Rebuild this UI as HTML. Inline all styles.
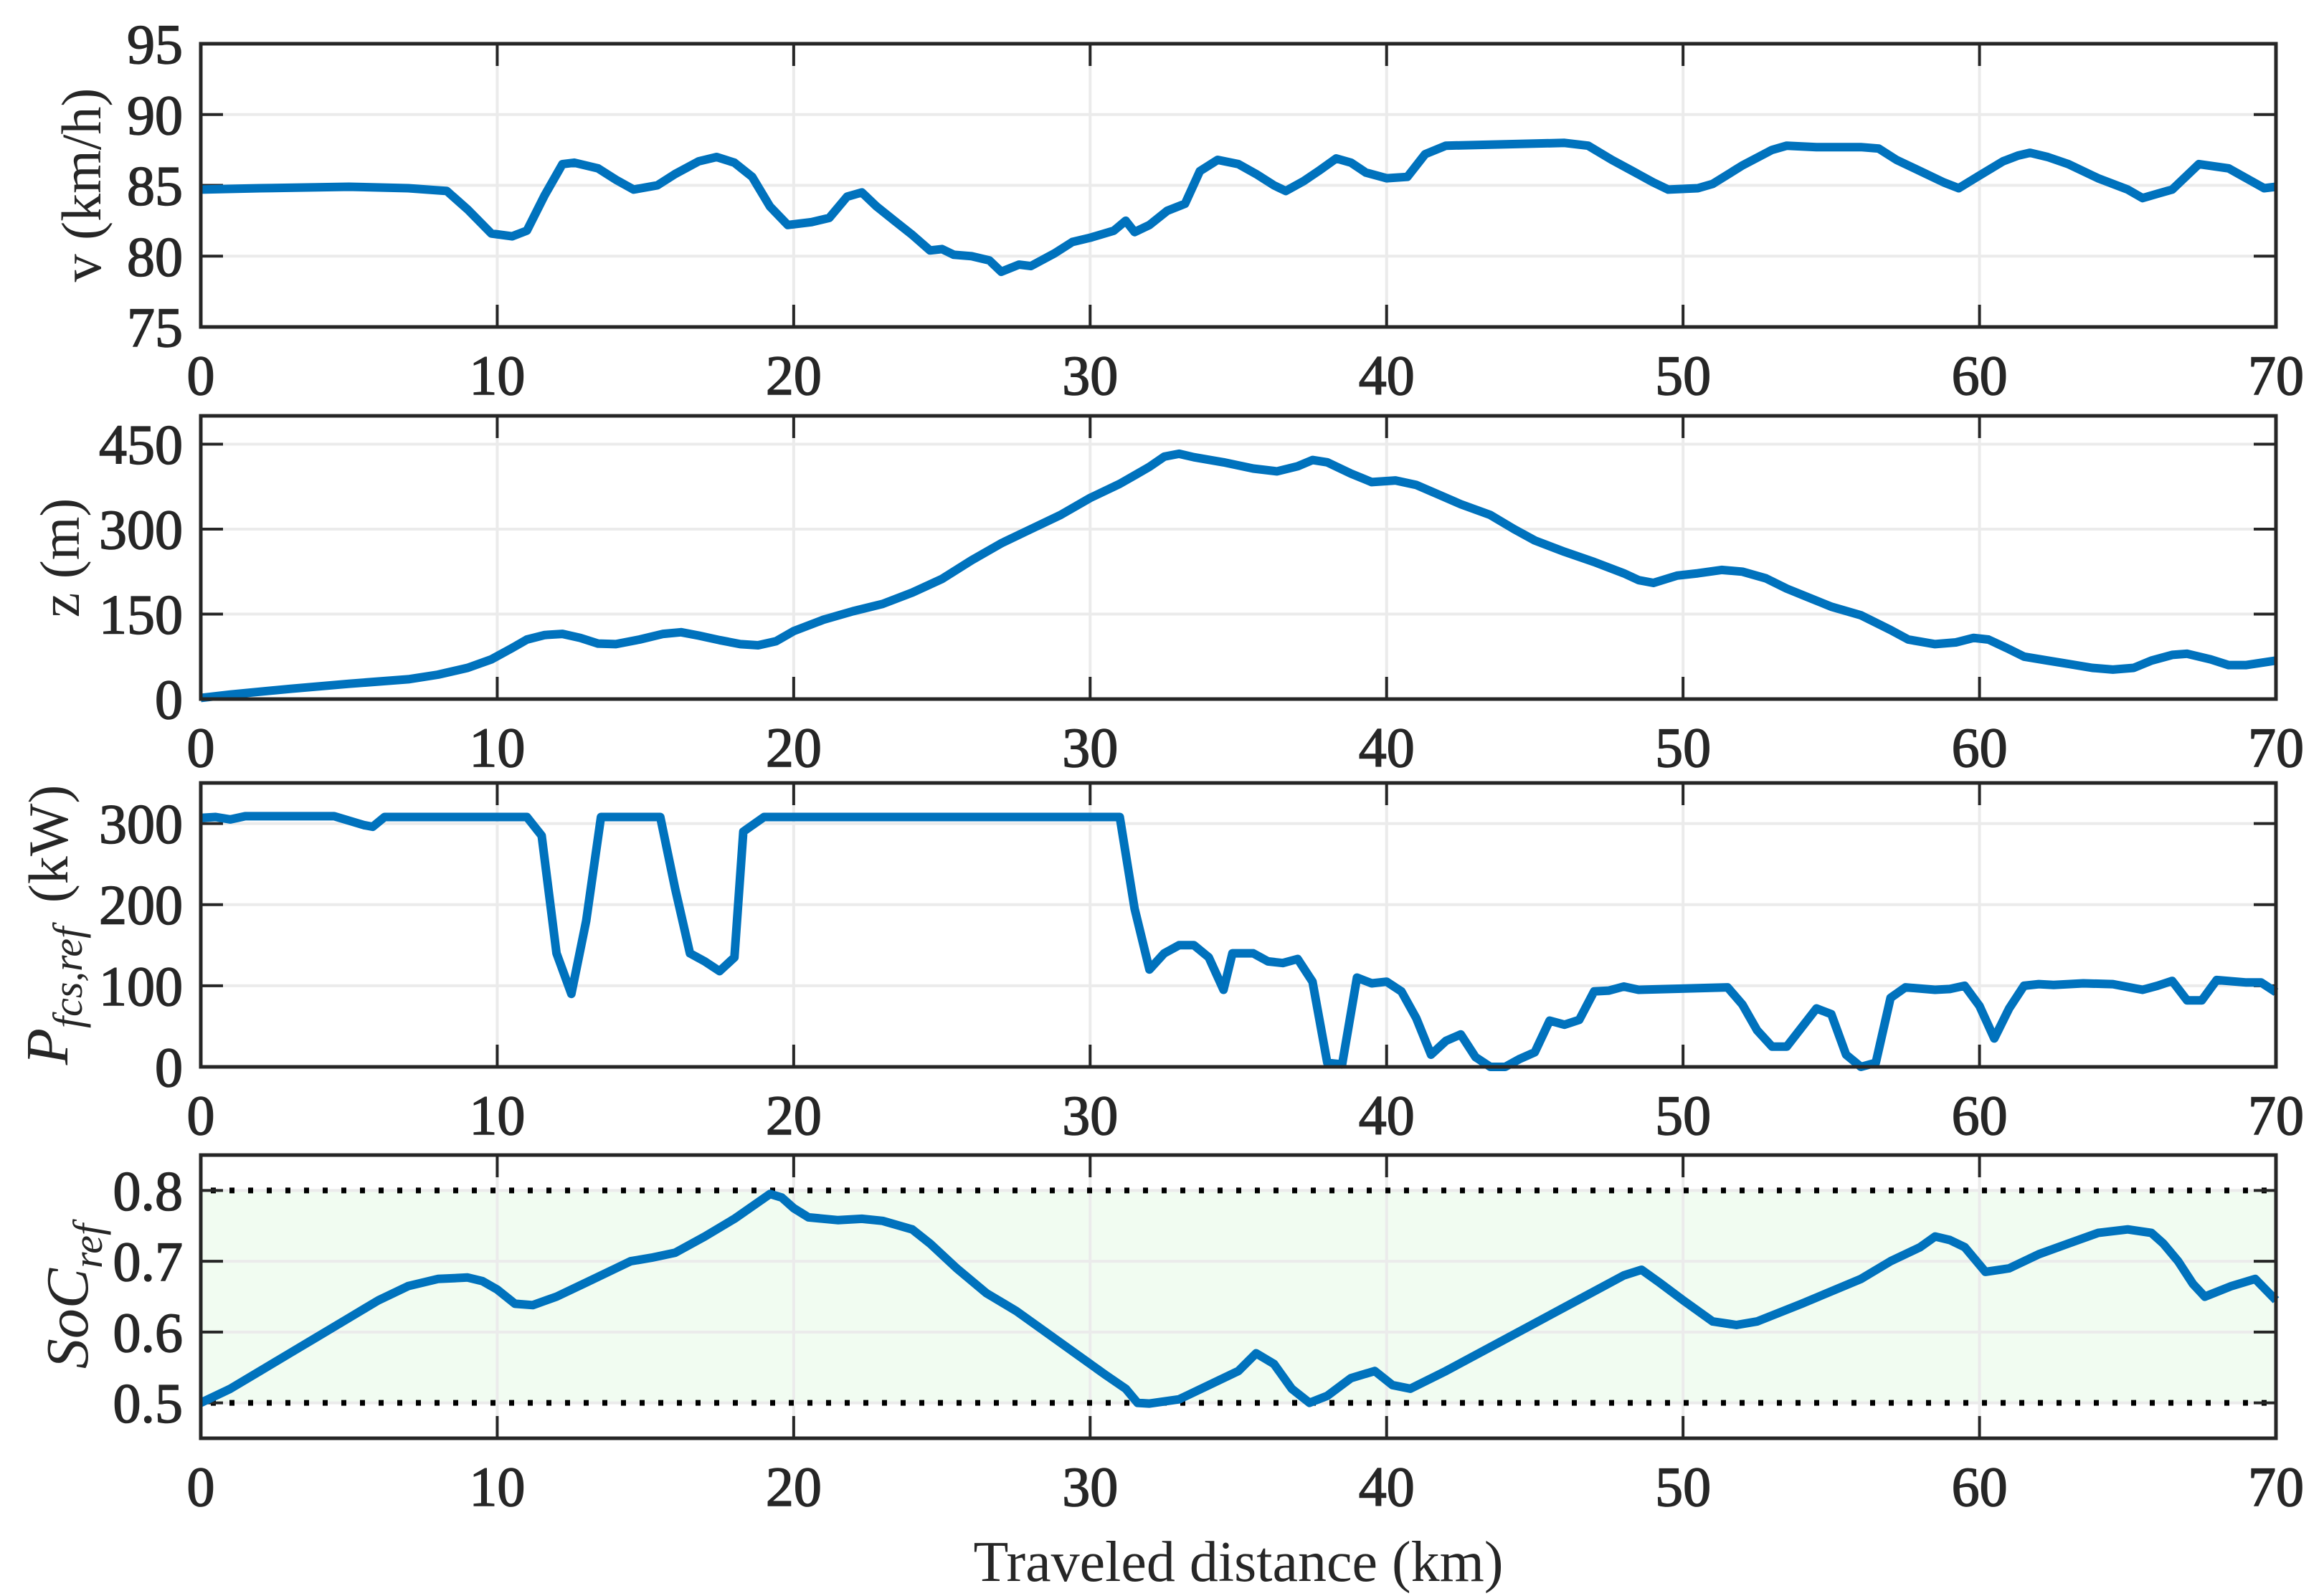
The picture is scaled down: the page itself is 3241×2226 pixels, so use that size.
<!DOCTYPE html>
<html><head><meta charset="utf-8"><style>
html,body{margin:0;padding:0;background:#fff;}
svg{display:block;font-family:"Liberation Serif",serif;}
</style></head><body>
<svg id="fig" xmlns="http://www.w3.org/2000/svg" width="3241" height="2226" viewBox="0 0 3241 2226"></svg>
<script>
const xTicks=[0,10,20,30,40,50,60,70];
const speedX=[0,2,5,7,8.3,9,9.8,10.5,11,11.6,12.2,12.6,13.4,14,14.6,15.4,16,16.8,17.4,18,18.6,19.2,19.8,20.6,21.2,21.8,22.3,22.8,23.4,24,24.6,25,25.4,26,26.6,27,27.6,28,28.8,29.4,30,30.8,31.2,31.5,32,32.6,33.2,33.7,34.3,35,35.6,36.2,36.6,37.2,37.7,38.3,38.8,39.3,40,40.7,41.3,42,44,46,46.8,47.6,48.3,49,49.5,50.5,51,52,53,53.5,54.5,56,56.6,57.2,58,58.8,59.3,60,60.8,61.3,61.7,62.3,63,64,65,65.5,66,66.5,67.4,68.4,69,69.6,70];
const speedV=[84.7,84.8,84.9,84.8,84.6,83.3,81.6,81.4,81.8,84.3,86.5,86.6,86.2,85.4,84.7,85,85.8,86.7,87,86.6,85.6,83.5,82.2,82.4,82.7,84.2,84.5,83.5,82.5,81.5,80.4,80.5,80.1,80,79.7,78.9,79.4,79.3,80.2,81,81.3,81.8,82.5,81.7,82.2,83.2,83.7,86,86.8,86.5,85.8,85,84.6,85.3,86,86.9,86.6,85.9,85.5,85.6,87.2,87.8,87.9,88,87.8,86.8,86,85.2,84.7,84.8,85.1,86.4,87.5,87.8,87.7,87.7,87.6,86.8,86,85.2,84.8,85.7,86.7,87.1,87.3,87,86.5,85.5,84.7,84.1,84.4,84.7,86.5,86.2,85.5,84.8,84.9];
const elevX=[0,1,3,5,7,8,9,9.8,10.5,11,11.6,12.2,12.8,13.4,14,14.8,15.6,16.2,16.8,17.5,18.2,18.8,19.4,20,21,22,23,24,25,26,27,28,29,30,31,31.5,32,32.5,33,33.5,34.5,35.5,36.3,37,37.5,38,38.8,39.5,40.3,41,41.8,42.5,43.5,44.3,45,46,47,48,48.5,49,49.8,50.5,51.3,52,52.8,53.5,54.3,55,56,57,57.6,58.5,59.2,59.8,60.3,61,61.5,62.3,63,63.8,64.5,65.2,65.8,66.5,67,67.8,68.4,69,70];
const elevV=[2,8,18,27,35,43,55,70,90,105,113,115,108,98,97,105,115,118,112,104,97,95,102,120,140,155,168,188,212,245,275,300,325,355,380,395,410,428,433,427,418,407,402,411,422,418,398,383,386,378,360,344,325,300,280,260,242,222,210,205,218,222,228,225,213,195,178,163,148,122,105,97,100,108,105,88,75,68,62,55,52,55,68,78,80,70,60,60,68];
const powX=[0,0.5,1,1.5,4.5,5.5,5.8,6.2,11,11.5,12,12.5,13,13.5,15.5,16,16.5,17,17.5,18,18.3,19,31,31.5,32,32.5,33,33.5,34,34.5,34.8,35.5,36,36.5,37,37.5,38,38.5,39,39.5,40,40.5,41,41.5,42,42.5,43,43.5,44,44.5,45,45.5,46,46.5,47,47.5,48,48.5,50.5,51.5,52,52.5,53,53.5,54.5,55,55.5,56,56.5,57,57.5,58.5,59,59.5,60,60.5,61,61.5,62,62.5,63.5,64.5,65.5,66,66.5,67,67.5,68,69,69.5,70];
const powV=[307,308,305,309,309,298,296,308,308,285,140,90,180,308,308,220,140,130,118,135,290,308,308,195,120,140,150,150,135,95,140,140,130,128,133,105,5,3,110,103,105,93,60,15,32,40,12,0,0,10,18,57,52,58,93,94,99,95,97,98,77,45,25,25,72,65,15,0,5,85,98,95,96,100,75,35,72,100,102,101,103,102,95,100,106,82,82,107,104,104,92];
const socX=[0,1,2,3,4,5,6,7,8,9,9.5,10,10.6,11.2,12,13,14,14.5,15.2,16,17,18,19.2,19.6,20,20.5,21.5,22.3,23,24,24.6,25.5,26.5,27.5,28.5,29.5,30.5,31.2,31.6,32,33,34,35,35.6,36.2,36.8,37.4,38,38.8,39.6,40.2,40.8,42,44,46,48,48.6,49.2,50,51,51.8,52.5,54,56,57,58,58.5,59,59.5,60.2,61,62,63,64,65,65.8,66.2,66.7,67.2,67.6,68.5,69.3,70];
const socV=[0.50,0.52,0.545,0.57,0.595,0.62,0.645,0.665,0.675,0.677,0.672,0.66,0.64,0.638,0.65,0.67,0.69,0.70,0.705,0.712,0.735,0.76,0.795,0.79,0.775,0.762,0.758,0.76,0.757,0.745,0.725,0.69,0.655,0.63,0.60,0.57,0.54,0.52,0.50,0.499,0.505,0.525,0.545,0.57,0.555,0.52,0.50,0.51,0.535,0.545,0.525,0.52,0.545,0.59,0.635,0.68,0.688,0.67,0.645,0.615,0.61,0.615,0.64,0.675,0.70,0.72,0.735,0.73,0.72,0.685,0.69,0.71,0.725,0.74,0.745,0.74,0.725,0.70,0.668,0.65,0.665,0.675,0.645];
const socBounds=[0.5,0.8];
const ticks1=[75,80,85,90,95], ticks2=[0,150,300,450], ticks3=[0,100,200,300], ticks4=[0.5,0.6,0.7,0.8];

const NS="http://www.w3.org/2000/svg";
const svg=document.getElementById('fig');
const X0=280,X1=3174;
const xs=v=>X0+(v-0)/(70-0)*(X1-X0);
function el(tag,attrs,parent){const e=document.createElementNS(NS,tag);for(const k in attrs)e.setAttribute(k,attrs[k]);(parent||svg).appendChild(e);return e;}
const panels=[
 {name:'speed',top:61,bot:456,ymin:75,ymax:95,ticks:ticks1,fmt:v=>String(v),xd:speedX,yd:speedV},
 {name:'elevation',top:580,bot:975,ymin:0,ymax:500,ticks:ticks2,fmt:v=>String(v),xd:elevX,yd:elevV},
 {name:'power',top:1092,bot:1488,ymin:0,ymax:350,ticks:ticks3,fmt:v=>String(v),xd:powX,yd:powV},
 {name:'soc',top:1611,bot:2006,ymin:0.45,ymax:0.85,ticks:ticks4,fmt:v=>v.toFixed(1),xd:socX,yd:socV}
];
panels.forEach((p,i)=>{
 const ys=v=>p.bot-(v-p.ymin)/(p.ymax-p.ymin)*(p.bot-p.top);
 const g=el('g',{});
 
 
 if(p.name==='soc'){
  const r=el('rect',{x:X0,y:ys(socBounds[1]),width:X1-X0,height:ys(socBounds[0])-ys(socBounds[1]),fill:'#f1fcf1'},g);
  
  
 }
 xTicks.forEach(t=>{const l=el('line',{x1:xs(t),x2:xs(t),y1:p.top,y2:p.bot,stroke:'#ebebeb','stroke-width':4},g);
  
  });
 p.ticks.forEach(t=>{const l=el('line',{x1:X0,x2:X1,y1:ys(t),y2:ys(t),stroke:'#ebebeb','stroke-width':4},g);
  
  });
 if(p.name==='soc'){
  socBounds.forEach(b=>{const l=el('line',{x1:X0,x2:X1,y1:ys(b),y2:ys(b),stroke:'#000','stroke-width':8,'stroke-dasharray':'7 19','stroke-dashoffset':'-14'},g);
   
   });
 }
 xTicks.forEach(t=>{
  el('line',{x1:xs(t),x2:xs(t),y1:p.bot,y2:p.bot-31,stroke:'#262626','stroke-width':4},g);
  el('line',{x1:xs(t),x2:xs(t),y1:p.top,y2:p.top+31,stroke:'#262626','stroke-width':4},g);
  const tx=el('text',{x:xs(t),y:p.bot+94,'text-anchor':'middle','font-size':78,fill:'#262626','stroke':'#262626','stroke-width':1.5},g);
  tx.textContent=t;
  
  
 });
 p.ticks.forEach(t=>{
  el('line',{x1:X0,x2:X0+31,y1:ys(t),y2:ys(t),stroke:'#262626','stroke-width':4},g);
  el('line',{x1:X1,x2:X1-31,y1:ys(t),y2:ys(t),stroke:'#262626','stroke-width':4},g);
  const tx=el('text',{x:255,y:ys(t)+27,'text-anchor':'end','font-size':78,fill:'#262626','stroke':'#262626','stroke-width':1.5},g);
  tx.textContent=p.fmt(t);
  
  
 });
 const pts=p.xd.map((x,k)=>xs(x).toFixed(1)+','+ys(p.yd[k]).toFixed(1)).join(' ');
 const pl=el('polyline',{points:pts,fill:'none',stroke:'#0072BD','stroke-width':12,'stroke-linejoin':'round'},g);
 
 
 const box=el('rect',{x:X0,y:p.top,width:X1-X0,height:p.bot-p.top,fill:'none',stroke:'#262626','stroke-width':5},g);
 
 
});
</script>
<svg style="position:absolute;left:0;top:0" width="3241" height="2226">
 <g font-family="Liberation Serif, serif" fill="#262626" font-size="78">
  <text transform="translate(140,258) rotate(-90)" text-anchor="middle">v (km/h)</text>
  <text transform="translate(110,778) rotate(-90)" text-anchor="middle">z (m)</text>
  <text transform="translate(94,1290) rotate(-90)" text-anchor="middle"><tspan font-style="italic" font-size="84">P</tspan><tspan font-style="italic" font-size="58" dy="20">fcs,ref</tspan><tspan dy="-20" dx="14"> (kW)</tspan></text>
  <text transform="translate(122,1808) rotate(-90)" text-anchor="middle"><tspan font-style="italic" font-size="84">SoC</tspan><tspan font-style="italic" font-size="58" dy="20">ref</tspan></text>
  <text x="1727" y="2205" text-anchor="middle" font-size="80">Traveled distance (km)</text>
 </g>
</svg>
</body></html>
